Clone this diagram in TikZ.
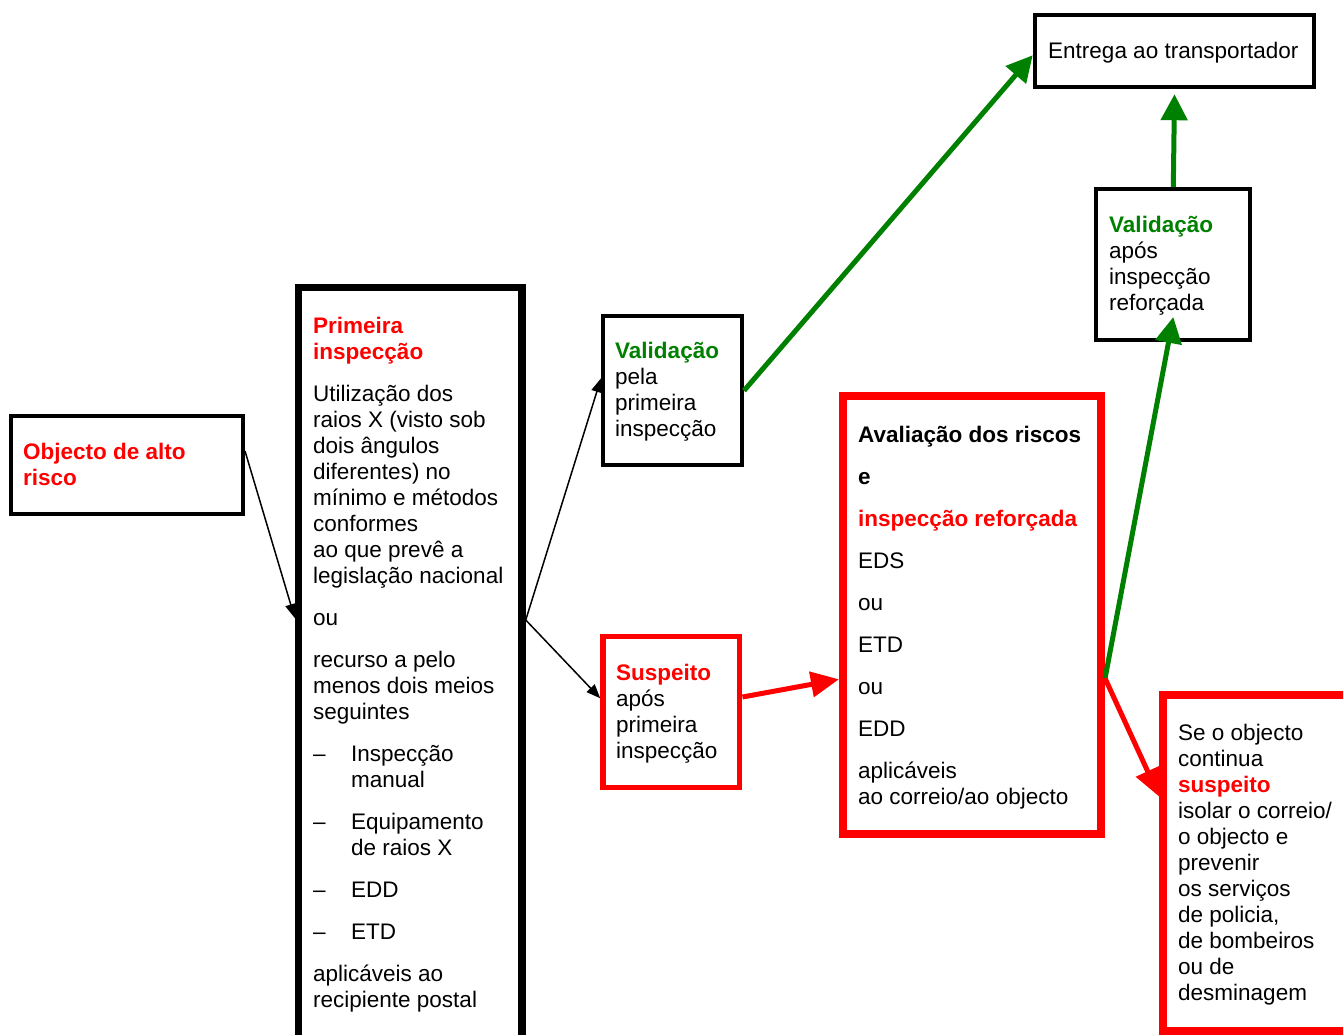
\documentclass[tikz,border=0pt]{standalone}
\usepackage{fontspec}
\setmainfont{Liberation Sans}
\usetikzlibrary{arrows.meta}
\definecolor{gr}{RGB}{0,128,0}
\definecolor{rd}{RGB}{255,0,0}
\newcommand\txtsize{\fontsize{22.5pt}{26pt}\selectfont}
\newcommand\dashitem[1]{\makebox[38pt][l]{–}#1}
\tikzset{
  box/.style={draw, line width=4pt, inner sep=0pt},
  txt/.style={anchor=base west, inner sep=0pt, font=\txtsize},
  blackarrow/.style={line width=1.5pt, -{Triangle[length=14pt,width=11pt]}},
  greenarrow/.style={draw=gr, line width=5pt, -{Triangle[length=26pt,width=26pt]}, fill=gr},
  redarrow/.style={draw=rd, line width=5pt, -{Triangle[length=28pt,width=25pt]}, fill=rd},
}
\begin{document}
\begin{tikzpicture}[x=1pt,y=-1pt]
\useasboundingbox (0,0) rectangle (1343,1035);
\clip (0,0) rectangle (1343,1035);
% boxes
\node[box, minimum width=232pt, minimum height=97.5pt] (obj) at (127,464.75) {};
\node[box, line width=7.5pt, minimum width=223.5pt, minimum height=782.5pt] (prim) at (410.25,678.75) {};
\node[box, minimum width=139pt, minimum height=149.3pt] (val1) at (672.5,390.65) {};
\node[box, draw=rd, line width=5.5pt, minimum width=136.7pt, minimum height=151.2pt] (susp) at (671.35,711.9) {};
\node[box, draw=rd, line width=7.7pt, minimum width=258.4pt, minimum height=438.2pt] (aval) at (972,614.9) {};
\node[box, minimum width=279.6pt, minimum height=71.9pt] (entr) at (1174.5,51.25) {};
\node[box, minimum width=154pt, minimum height=151.2pt] (val2) at (1173.3,264.4) {};
\node[box, draw=rd, line width=8pt, minimum width=196.7pt, minimum height=335.6pt] (seo) at (1261.65,863.2) {};
% texts
\node[txt] (objT) at (23,459) {\parbox[t]{210pt}{\raggedright\leavevmode\bfseries\color{rd}Objecto de alto\\risco}};
\node[txt] (primT) at (313,333) {\parbox[t]{205pt}{\raggedright\leavevmode
{\bfseries\color{rd}Primeira\\inspecção}\\[16pt]
Utilização dos\\raios X (visto sob\\dois ângulos\\diferentes) no\\mínimo e métodos\\conformes\\ao que prevê a\\legislação nacional\\[16pt]
ou\\[16pt]
recurso a pelo\\menos dois meios\\seguintes\\[16pt]
\dashitem{Inspecção}\\\hspace*{38pt}manual\\[16pt]
\dashitem{Equipamento}\\\hspace*{38pt}de raios X\\[16pt]
\dashitem{EDD}\\[16pt]
\dashitem{ETD}\\[16pt]
aplicáveis ao\\recipiente postal}};
\node[txt] (val1T) at (615,358) {\parbox[t]{125pt}{\raggedright\leavevmode{\bfseries\color{gr}Validação}\\pela\\primeira\\inspecção}};
\node[txt] (suspT) at (616,680) {\parbox[t]{125pt}{\raggedright\leavevmode{\bfseries\color{rd}Suspeito}\\após\\primeira\\inspecção}};
\node[txt] (avalT) at (858,442) {\parbox[t]{240pt}{\raggedright\leavevmode
{\bfseries Avaliação dos riscos}\\[16pt]
{\bfseries e}\\[16pt]
{\bfseries\color{rd}inspecção reforçada}\\[16pt]
EDS\\[16pt]ou\\[16pt]ETD\\[16pt]ou\\[16pt]EDD\\[16pt]
aplicáveis\\ao correio/ao objecto}};
\node[txt] (entrT) at (1048,59) {Entrega ao transportador};
\node[txt] (val2T) at (1109,232) {\parbox[t]{140pt}{\raggedright\leavevmode{\bfseries\color{gr}Validação}\\após\\inspecção\\reforçada}};
\node[txt] (seoT) at (1178,740) {\parbox[t]{170pt}{\raggedright\leavevmode Se o objecto\\continua\\{\bfseries\color{rd}suspeito}\\isolar o correio/\\o objecto e\\prevenir\\os serviços\\de policia,\\de bombeiros\\ou de\\desminagem}};
% connectors
\draw[blackarrow] ([yshift=13.75pt]obj.east) -- ([yshift=60.75pt]prim.west);
\draw[blackarrow] ([yshift=58.75pt]prim.east) -- ([yshift=12.35pt]val1.west);
\draw[blackarrow] ([yshift=58.75pt]prim.east) -- ([yshift=13.6pt]susp.west);
\draw[greenarrow] (val1.east) -- ([yshift=-4pt]entr.west);
\draw[greenarrow] (val2.north) -- ([yshift=-5pt]entr.south);
\draw[greenarrow] ([yshift=-63.4pt]aval.east) -- ([yshift=25pt]val2.south);
\draw[redarrow] ([yshift=14.9pt]susp.east) -- ([yshift=-64.4pt]aval.west);
\draw[redarrow] ([yshift=-63.4pt]aval.east) -- ([yshift=66.5pt]seo.west);
\end{tikzpicture}
\end{document}
